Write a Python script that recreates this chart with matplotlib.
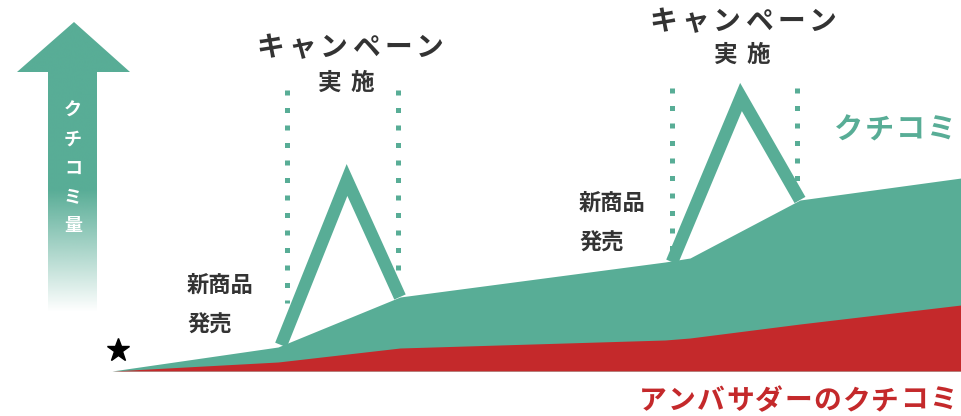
import numpy as np
import matplotlib.pyplot as plt
from matplotlib.patches import Polygon

plt.rcParams["font.family"] = ["Noto Sans CJK JP", "DejaVu Sans"]

GREEN = "#58ad96"
RED = "#c4292b"
DARK = "#333333"
BASE = 371  # baseline row of the chart, in pixels from the top

# timeline positions and buzz volume (height above the baseline)
x_points = [112, 278, 400, 665, 690, 800, 961]
kuchikomi = [0, 24, 74, 109, 113, 171, 193]
ambassador = [0, 9, 23, 31, 33, 47, 66]

# campaign spikes: start, peak, end
spike1_x = [281, 347, 400]
spike1_v = [26, 191, 74]
spike2_x = [672, 741, 800]
spike2_v = [109, 274, 171]

# campaign window edges (x) and their dotted-line extents (top, bottom height)
window_x = [287, 398, 672, 797]
window_top = [281, 281, 283, 283]
window_bottom = [68, 96, 121, 179]


def v(p):
    """pixel row -> value coordinate"""
    return BASE - p


def tracked(ax, xc, yp, s, size, step, **kw):
    """draw a string one glyph at a time so the letter spacing can be set"""
    start = xc - step * (len(s) - 1) / 2
    for i, ch in enumerate(s):
        ax.text(start + i * step, v(yp), ch, fontsize=size, ha="center",
                va="center", **kw)


fig = plt.figure(figsize=(9.61, 4.16), dpi=100)
ax = fig.add_axes([0, 0, 1, 1])
ax.set_xlim(0, 961)
ax.set_ylim(BASE - 416, BASE)
ax.axis("off")

# stacked areas
ax.fill_between(x_points, 0, kuchikomi, color=GREEN, lw=0, zorder=1)
ax.fill_between(x_points, 0, ambassador, color=RED, lw=0, zorder=2)

# dotted campaign windows
for xw, top, bot in zip(window_x, window_top, window_bottom):
    ax.plot([xw, xw], [top, bot], color=GREEN, lw=3.6,
            linestyle=(0, (1, 2.5)), dash_capstyle="butt", zorder=3)

# campaign spikes
for sx, sv in [(spike1_x, spike1_v), (spike2_x, spike2_v)]:
    ax.plot(sx, sv, color=GREEN, lw=9, solid_joinstyle="miter",
            solid_capstyle="butt", zorder=4)

# start marker
ax.plot(118, v(350), marker="*", color="black", markersize=17, zorder=5)

# vertical arrow with a fade toward the bottom
arrow_pts = [(74, 22), (130, 72), (97, 72), (97, 315), (48, 315), (48, 72),
             (17, 72)]
arrow = Polygon([(x, v(y)) for x, y in arrow_pts], closed=True,
                facecolor="none", edgecolor="none")
ax.add_patch(arrow)
rows = np.arange(22, 316)
alpha = np.clip((312 - rows) / (312 - 190), 0, 1)
grad = np.zeros((len(rows), 1, 4))
grad[..., :3] = np.array([0x58, 0xad, 0x96]) / 255
grad[:, 0, 3] = alpha
img = ax.imshow(grad, extent=(17, 130, v(315), v(22)), origin="upper",
                aspect="auto", interpolation="bilinear", zorder=2)
img.set_clip_path(arrow)
for i, ch in enumerate("クチコミ量"):
    ax.text(73, v(110 + i * 29), ch, color="white", fontsize=13,
            fontweight="bold", ha="center", va="center", zorder=3)

# labels
tracked(ax, 350, 48, "キャンペーン", 20, 32, color=DARK, fontweight="bold")
tracked(ax, 346, 83, "実施", 17, 33, color=DARK, fontweight="bold")
tracked(ax, 743, 22, "キャンペーン", 20, 32, color=DARK, fontweight="bold")
tracked(ax, 742, 55, "実施", 17, 33, color=DARK, fontweight="bold")

for left, top in [(187, 285), (579, 203)]:
    ax.text(left, v(top), "新商品", fontsize=16, color=DARK,
            fontweight="bold", ha="left", va="center")
    ax.text(left, v(top + 40), "発売", fontsize=16, color=DARK,
            fontweight="bold", ha="left", va="center")

tracked(ax, 895, 130, "クチコミ", 21, 31, color=GREEN, fontweight="bold")
tracked(ax, 798, 401, "アンバサダーのクチコミ", 20, 29, color=RED,
        fontweight="bold")

fig.savefig("out.png", dpi=100)
